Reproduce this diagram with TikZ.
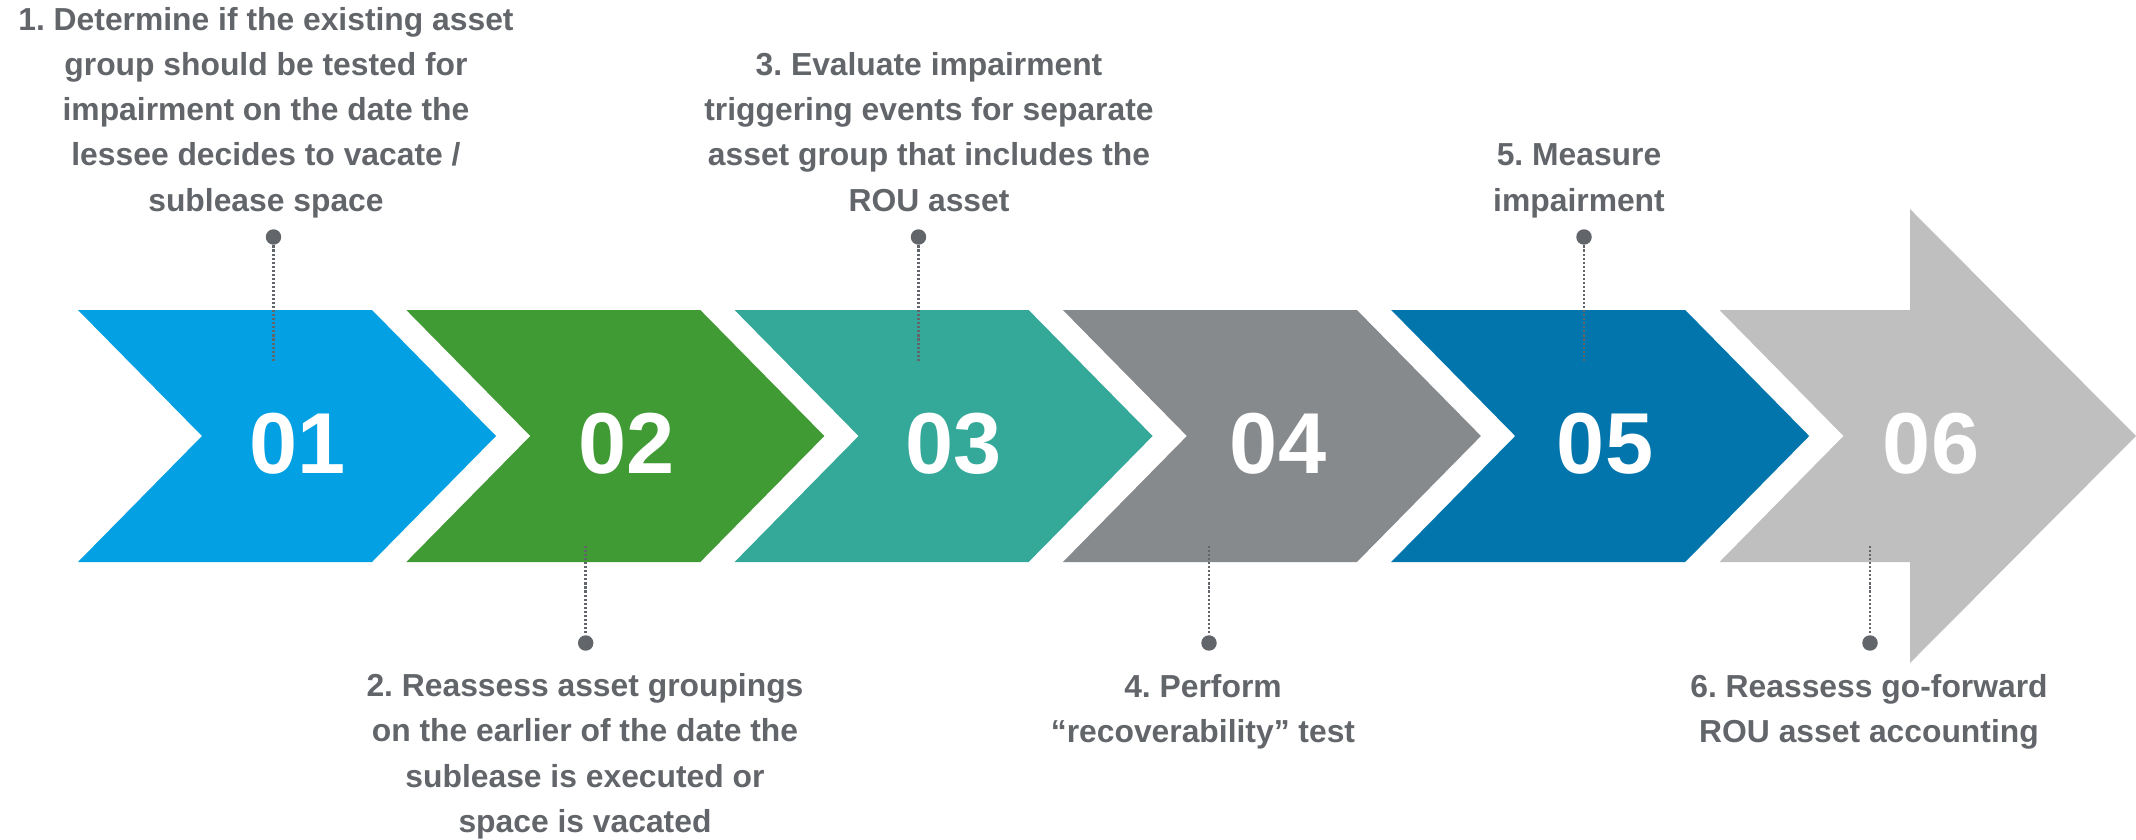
\documentclass[tikz,border=0pt]{standalone}
\usepackage{fontspec}
\setmainfont{Liberation Sans}
\usepackage{tikz}
\usetikzlibrary{positioning}
\definecolor{stepone}{RGB}{3,160,227}
\definecolor{steptwo}{RGB}{64,155,53}
\definecolor{stepthree}{RGB}{52,168,153}
\definecolor{stepfour}{RGB}{135,138,141}
\definecolor{stepfive}{RGB}{2,118,172}
\definecolor{stepsix}{RGB}{191,191,191}
\definecolor{labelgray}{RGB}{98,101,105}
\frenchspacing

\begin{document}
\begin{tikzpicture}[
      x=0.01cm, y=-0.01cm,
      number/.style={
         anchor=base,
         inner sep=0pt,
         text=white,
         font=\bfseries\fontsize{24.6}{28}\selectfont
      },
      pin dot/.style={
         circle,
         fill=labelgray,
         inner sep=0pt,
         minimum size=4.4pt
      },
      leader/.style={
         draw=labelgray,
         line width=0.75pt,
         dash pattern=on 0.6pt off 0.55pt
      },
      note text/.style={
         anchor=base,
         align=center,
         inner sep=0pt,
         text=labelgray,
         font=\bfseries\fontsize{9.05}{12.8}\selectfont
      },
      point/.style={coordinate}
    ]
    \useasboundingbox (0,0) rectangle (2136,839);
    % chevrons
    \fill[stepone]   (78,310)    -- ++(294,0) -- ++(124,126) -- ++(-124,126) -- ++(-294,0) -- ++(124,-126) -- cycle;
    \fill[steptwo]   (406.3,310) -- ++(294,0) -- ++(124,126) -- ++(-124,126) -- ++(-294,0) -- ++(124,-126) -- cycle;
    \fill[stepthree] (734.6,310) -- ++(294,0) -- ++(124,126) -- ++(-124,126) -- ++(-294,0) -- ++(124,-126) -- cycle;
    \fill[stepfour]  (1062.9,310) -- ++(294,0) -- ++(124,126) -- ++(-124,126) -- ++(-294,0) -- ++(124,-126) -- cycle;
    \fill[stepfive]  (1391.2,310) -- ++(294,0) -- ++(124,126) -- ++(-124,126) -- ++(-294,0) -- ++(124,-126) -- cycle;
    \fill[stepsix]   (1719.5,310) -- (1910,310) -- (1910,209) -- (2136,436) -- (1910,663) -- (1910,562)
                     -- (1719.5,562) -- (1843.5,436) -- cycle;
    % numbers
    \node (n1) [number] at (298,473) {01};
    \node (n2) [number] at (627,473) {02};
    \node (n3) [number] at (954,473) {03};
    \node (n4) [number] at (1278,473) {04};
    \node (n5) [number] at (1605,473) {05};
    \node (n6) [number] at (1931,473) {06};
    % pins
    \node (d1) [pin dot] at (273.5,237) {};
    \node (d3) [pin dot] at (918.5,237) {};
    \node (d5) [pin dot] at (1584,237) {};
    \node (d2) [pin dot] at (585.7,643) {};
    \node (d4) [pin dot] at (1209,643) {};
    \node (d6) [pin dot] at (1870,643) {};
    \node (e1) [point] at (273.5,362) {};
    \node (e3) [point] at (918.5,362) {};
    \node (e5) [point] at (1584,362) {};
    \node (e2) [point] at (585.7,546) {};
    \node (e4) [point] at (1209,546) {};
    \node (e6) [point] at (1870,546) {};
    \draw[leader] (d1) -- (e1);
    \draw[leader] (d3) -- (e3);
    \draw[leader] (d5) -- (e5);
    \draw[leader] (e2) -- (d2);
    \draw[leader] (e4) -- (d4);
    \draw[leader] (e6) -- (d6);
    % texts (base = last line)
    \node (l1) [note text] at (266,211) {1. Determine if the existing asset\\group should be tested for\\impairment on the date the\\lessee decides to vacate /\\sublease space};
    \node (l3) [note text] at (929,211) {3. Evaluate impairment\\triggering events for separate\\asset group that includes the\\ROU asset};
    \node (l5) [note text] at (1579,211) {5. Measure\\impairment};
    \node (l2) [note text] at (585,832) {2. Reassess asset groupings\\on the earlier of the date the\\sublease is executed or\\space is vacated};
    \node (l4) [note text] at (1203,742) {4. Perform\\``recoverability'' test};
    \node (l6) [note text] at (1869,742) {6. Reassess go-forward\\ROU asset accounting};
\end{tikzpicture}
\end{document}
